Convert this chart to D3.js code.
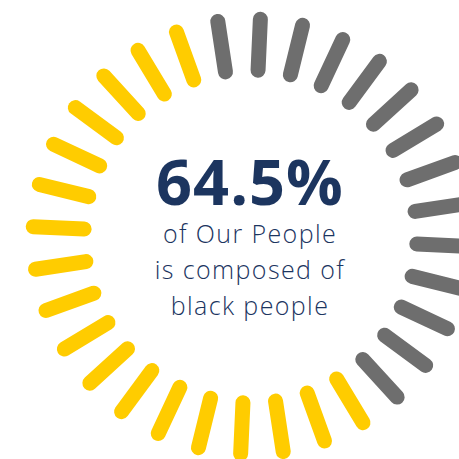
<!DOCTYPE html>
<html>
<head>
<meta charset="utf-8">
<script src="https://cdn.jsdelivr.net/npm/d3@7"></script>
<style>
  html, body { margin: 0; padding: 0; background: #ffffff; }
  svg { display: block; }
</style>
</head>
<body>
<div id="chart"></div>
<script>
// Share of the workforce shown as a ring of 32 rounded ticks
const segmentLabels = ["Black people", "Other"];
const segmentTicks = [18, 14];
const segmentColors = ["#ffcc00", "#6e6e6e"];
const headline = "64.5%";
const captionLines = ["of Our People", "is composed of", "black people"];

const width = 459, height = 459;
const cx = 250.5, cy = 236.5;
const innerR = 166.5, outerR = 217.5;
const startDeg = 148.85; // angle of the first highlighted tick, clockwise from 12 o'clock

const svg = d3.select("#chart").append("svg")
  .attr("width", width)
  .attr("height", height);

// One entry per tick, tagged with its segment
const ticks = [];
segmentLabels.forEach((label, s) => {
  for (let i = 0; i < segmentTicks[s]; i++) ticks.push({ segment: s, label });
});
const total = ticks.length;

const angle = d3.scaleLinear()
  .domain([0, total])
  .range([startDeg * Math.PI / 180, startDeg * Math.PI / 180 + 2 * Math.PI]);

const color = d3.scaleOrdinal().domain(d3.range(segmentLabels.length)).range(segmentColors);

const g = svg.append("g").attr("transform", `translate(${cx},${cy})`);

g.selectAll("line.tick")
  .data(ticks)
  .join("line")
  .attr("class", "tick")
  .each(function (d, i) {
    const a = angle(i);
    const p0 = d3.pointRadial(a, innerR);
    const p1 = d3.pointRadial(a, outerR);
    d3.select(this)
      .attr("x1", p0[0]).attr("y1", p0[1])
      .attr("x2", p1[0]).attr("y2", p1[1]);
  })
  .attr("stroke", d => color(d.segment))
  .attr("stroke-width", 15)
  .attr("stroke-linecap", "round");

// Central label
const textX = 250;
svg.append("text")
  .attr("x", textX)
  .attr("y", 205)
  .attr("text-anchor", "middle")
  .attr("font-family", "'Open Sans', 'Noto Sans', sans-serif")
  .attr("font-weight", 700)
  .attr("font-size", 63)
  .attr("letter-spacing", 1)
  .attr("fill", "#1c355f")
  .text(headline);

svg.selectAll("text.caption")
  .data(captionLines)
  .join("text")
  .attr("class", "caption")
  .attr("x", textX)
  .attr("y", (d, i) => 243 + i * 36)
  .attr("text-anchor", "middle")
  .attr("font-family", "'Open Sans', 'Noto Sans', sans-serif")
  .attr("font-weight", 300)
  .attr("font-size", 25)
  .attr("letter-spacing", 1.4)
  .attr("fill", "#1c355f")
  .text(d => d);
</script>
</body>
</html>
